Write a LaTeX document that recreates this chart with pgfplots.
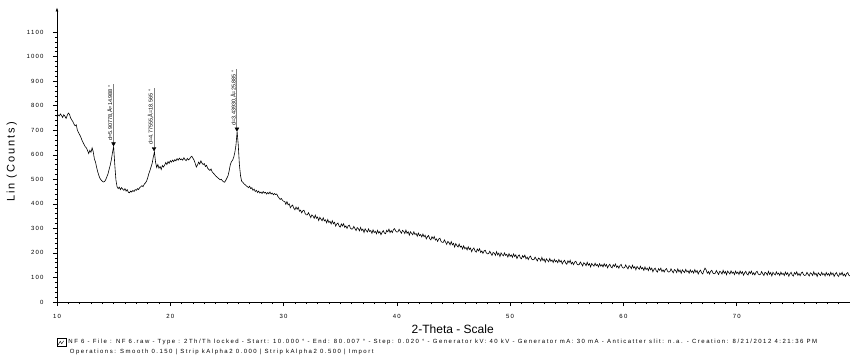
\documentclass[border=0pt]{standalone}
\usepackage{fontspec}
\setmainfont{Liberation Sans}
\newfontfamily\infofont[LetterSpace=25]{Liberation Sans}
\newfontfamily\tickfont[LetterSpace=20]{Liberation Sans}
\newfontfamily\widefont[LetterSpace=18]{Liberation Sans}
\usepackage{pgfplots}
\pgfplotsset{compat=1.18}
\usepackage{pgfplotstable}
\usetikzlibrary{arrows.meta}

\pgfplotstableread{
x y
10.0 755
10.1 762
10.2 758
10.3 766
10.4 760
10.5 752
10.6 763
10.7 757
10.8 748
10.9 760
11.0 770
11.1 765
11.2 750
11.3 742
11.4 735
11.5 725
11.6 718
11.7 722
11.8 700
11.9 690
12.0 682
12.1 672
12.2 660
12.3 650
12.4 641
12.5 632
12.6 628
12.7 617
12.8 605
12.9 618
13.0 610
13.1 628
13.2 612
13.3 583
13.4 570
13.5 548
13.6 530
13.7 515
13.8 503
13.9 497
14.0 492
14.1 489
14.2 491
14.3 498
14.4 510
14.5 522
14.6 540
14.7 558
14.8 580
14.9 610
15.0 632
15.1 560
15.2 498
15.3 470
15.4 462
15.5 468
15.6 458
15.7 466
15.8 460
15.9 455
16.0 462
16.1 452
16.2 458
16.3 447
16.4 445
16.5 452
16.6 448
16.7 455
16.8 450
16.9 458
17.0 455
17.1 462
17.2 458
17.3 466
17.4 470
17.5 474
17.6 470
17.7 480
17.8 485
17.9 492
18.0 505
18.1 522
18.2 535
18.3 550
18.4 565
18.5 590
18.6 612
18.7 570
18.8 548
18.9 560
19.0 545
19.1 552
19.2 540
19.3 556
19.4 550
19.5 558
19.6 568
19.7 560
19.8 572
19.9 565
20.0 576
20.1 570
20.2 578
20.3 572
20.4 580
20.5 575
20.6 584
20.7 578
20.8 586
20.9 580
21.0 583
21.1 578
21.2 588
21.3 580
21.4 576
21.5 585
21.6 579
21.7 583
21.8 590
21.9 594
22.0 586
22.1 578
22.2 565
22.3 550
22.4 558
22.5 570
22.6 562
22.7 575
22.8 566
22.9 560
23.0 564
23.1 552
23.2 557
23.3 545
23.4 540
23.5 536
23.6 542
23.7 530
23.8 525
23.9 520
24.0 514
24.1 510
24.2 506
24.3 502
24.4 498
24.5 500
24.6 494
24.7 490
24.8 488
24.9 496
25.0 505
25.1 515
25.2 535
25.3 560
25.4 572
25.5 578
25.6 590
25.7 610
25.8 640
25.9 695
26.0 640
26.1 560
26.2 515
26.3 492
26.4 488
26.5 482
26.6 478
26.7 474
26.8 470
26.9 466
27.0 472
27.1 462
27.2 466
27.3 455
27.4 460
27.5 450
27.6 455
27.7 446
27.8 452
27.9 444
28.0 448
28.1 442
28.2 450
28.3 444
28.4 447
28.5 440
28.6 446
28.7 441
28.8 448
28.9 440
29.0 444
29.1 437
29.2 442
29.3 438
29.4 440
29.5 430
29.6 424
29.7 418
29.8 422
29.9 415
30.0 410
}\xrdA

\begin{document}
\begin{tikzpicture}
\begin{axis}[
  scale only axis, width=793pt, height=294.5pt,
  xmin=10, xmax=80, ymin=0, ymax=1200,
  axis x line=bottom, axis y line=left,
  x axis line style={-},
  y axis line style={-{Latex[length=4pt,width=3pt]}},
  axis line style={line width=0.6pt},
  xtick={10,20,...,80}, xticklabels={10,20,30,40,50,60,70,},
  ytick={0,100,...,1100},
  minor x tick num=9, minor y tick num=4,
  tick align=outside,
  major tick length=4pt, minor tick length=2pt,
  tick style={black, line width=0.5pt},
  ticklabel style={font=\tickfont\fontsize{6}{7}\selectfont},
  xticklabel style={yshift=-5pt},
  yticklabel style={xshift=-6pt},
  /pgf/number format/assume math mode=true,
  /pgf/number format/1000 sep={},
  clip=false,
]
\coordinate (O) at (axis cs:10,0);
\addplot[black, line width=0.6pt] table[x=x,y=y] {\xrdA};
\addplot[black, line width=0.6pt] coordinates {
(30.0,410) (30.1,410) (30.2,398) (30.3,409) (30.4,396) (30.5,400) (30.6,384) (30.7,391) (30.8,395) (30.9,382) (31.0,376)
(31.1,387) (31.2,378) (31.3,386) (31.4,370) (31.5,374) (31.6,363) (31.7,372) (31.8,374) (31.9,361) (32.0,355)
(32.1,355) (32.2,364) (32.3,354) (32.4,344) (32.5,355) (32.6,350) (32.7,341) (32.8,354) (32.9,341) (33.0,346)
(33.1,332) (33.2,345) (33.3,338) (33.4,331) (33.5,343) (33.6,331) (33.7,335) (33.8,323) (33.9,336) (34.0,324)
(34.1,329) (34.2,318) (34.3,331) (34.4,319) (34.5,325) (34.6,309) (34.7,318) (34.8,322) (34.9,310) (35.0,305)
(35.1,318) (35.2,310) (35.3,319) (35.4,304) (35.5,310) (35.6,300) (35.7,310) (35.8,313) (35.9,301) (36.0,297)
(36.1,298) (36.2,308) (36.3,299) (36.4,291) (36.5,303) (36.6,299) (36.7,290) (36.8,304) (36.9,291) (37.0,297)
(37.1,283) (37.2,298) (37.3,291) (37.4,285) (37.5,298) (37.6,287) (37.7,291) (37.8,280) (37.9,294) (38.0,283)
(38.1,288) (38.2,278) (38.3,292) (38.4,281) (38.5,287) (38.6,274) (38.7,284) (38.8,291) (38.9,281) (39.0,278)
(39.1,292) (39.2,286) (39.3,297) (39.4,283) (39.5,291) (39.6,283) (39.7,295) (39.8,299) (39.9,289) (40.0,285)
(40.1,286) (40.2,296) (40.3,288) (40.4,280) (40.5,292) (40.6,288) (40.7,279) (40.8,293) (40.9,280) (41.0,286)
(41.1,272) (41.2,286) (41.3,280) (41.4,274) (41.5,286) (41.6,275) (41.7,279) (41.8,268) (41.9,281) (42.0,270)
(42.1,275) (42.2,265) (42.3,277) (42.4,266) (42.5,272) (42.6,257) (42.7,266) (42.8,271) (42.9,258) (43.0,253)
(43.1,266) (43.2,258) (43.3,267) (43.4,252) (43.5,257) (43.6,247) (43.7,257) (43.8,260) (43.9,247) (44.0,243)
(44.1,243) (44.2,253) (44.3,244) (44.4,235) (44.5,247) (44.6,242) (44.7,233) (44.8,246) (44.9,233) (45.0,239)
(45.1,224) (45.2,238) (45.3,230) (45.4,224) (45.5,236) (45.6,224) (45.7,228) (45.8,216) (45.9,229) (46.0,217)
(46.1,222) (46.2,212) (46.3,225) (46.4,214) (46.5,220) (46.6,205) (46.7,215) (46.8,220) (46.9,208) (47.0,203)
(47.1,216) (47.2,208) (47.3,217) (47.4,202) (47.5,208) (47.6,198) (47.7,208) (47.8,211) (47.9,200) (48.0,196)
(48.1,197) (48.2,207) (48.3,198) (48.4,190) (48.5,202) (48.6,199) (48.7,190) (48.8,205) (48.9,192) (49.0,199)
(49.1,185) (49.2,200) (49.3,193) (49.4,188) (49.5,200) (49.6,190) (49.7,194) (49.8,183) (49.9,197) (50.0,186)
(50.1,192) (50.2,182) (50.3,196) (50.4,185) (50.5,192) (50.6,177) (50.7,187) (50.8,192) (50.9,180) (51.0,176)
(51.1,189) (51.2,182) (51.3,191) (51.4,176) (51.5,183) (51.6,173) (51.7,183) (51.8,187) (51.9,175) (52.0,172)
(52.1,173) (52.2,183) (52.3,175) (52.4,167) (52.5,179) (52.6,176) (52.7,167) (52.8,182) (52.9,169) (53.0,175)
(53.1,162) (53.2,176) (53.3,170) (53.4,164) (53.5,177) (53.6,166) (53.7,171) (53.8,161) (53.9,174) (54.0,164)
(54.1,169) (54.2,160) (54.3,173) (54.4,163) (54.5,169) (54.6,155) (54.7,164) (54.8,170) (54.9,159) (55.0,154)
(55.1,168) (55.2,160) (55.3,170) (55.4,155) (55.5,162) (55.6,152) (55.7,163) (55.8,166) (55.9,155) (56.0,151)
(56.1,153) (56.2,163) (56.3,155) (56.4,147) (56.5,160) (56.6,156) (56.7,148) (56.8,162) (56.9,150) (57.0,156)
(57.1,143) (57.2,157) (57.3,151) (57.4,146) (57.5,158) (57.6,148) (57.7,153) (57.8,143) (57.9,156) (58.0,146)
(58.1,152) (58.2,143) (58.3,156) (58.4,146) (58.5,153) (58.6,139) (58.7,148) (58.8,154) (58.9,143) (59.0,139)
(59.1,152) (59.2,145) (59.3,155) (59.4,141) (59.5,147) (59.6,138) (59.7,149) (59.8,153) (59.9,141) (60.0,138)
(60.1,140) (60.2,151) (60.3,142) (60.4,135) (60.5,148) (60.6,144) (60.7,136) (60.8,150) (60.9,138) (61.0,144)
(61.1,131) (61.2,145) (61.3,139) (61.4,133) (61.5,146) (61.6,135) (61.7,140) (61.8,129) (61.9,143) (62.0,132)
(62.1,138) (62.2,128) (62.3,142) (62.4,131) (62.5,138) (62.6,123) (62.7,133) (62.8,138) (62.9,127) (63.0,122)
(63.1,136) (63.2,129) (63.3,138) (63.4,124) (63.5,131) (63.6,122) (63.7,132) (63.8,136) (63.9,125) (64.0,122)
(64.1,124) (64.2,135) (64.3,126) (64.4,119) (64.5,132) (64.6,129) (64.7,120) (64.8,135) (64.9,123) (65.0,130)
(65.1,117) (65.2,131) (65.3,125) (65.4,120) (65.5,133) (65.6,123) (65.7,127) (65.8,117) (65.9,131) (66.0,121)
(66.1,127) (66.2,118) (66.3,132) (66.4,121) (66.5,128) (66.6,114) (66.7,124) (66.8,130) (66.9,119) (67.0,114)
(67.1,128) (67.2,138) (67.3,131) (67.4,117) (67.5,124) (67.6,114) (67.7,125) (67.8,129) (67.9,118) (68.0,115)
(68.1,117) (68.2,128) (68.3,120) (68.4,112) (68.5,125) (68.6,122) (68.7,114) (68.8,129) (68.9,117) (69.0,124)
(69.1,111) (69.2,126) (69.3,120) (69.4,114) (69.5,127) (69.6,117) (69.7,122) (69.8,112) (69.9,126) (70.0,116)
(70.1,122) (70.2,112) (70.3,126) (70.4,116) (70.5,123) (70.6,109) (70.7,119) (70.8,125) (70.9,114) (71.0,110)
(71.1,124) (71.2,116) (71.3,126) (71.4,112) (71.5,119) (71.6,110) (71.7,121) (71.8,125) (71.9,114) (72.0,111)
(72.1,113) (72.2,124) (72.3,115) (72.4,108) (72.5,121) (72.6,118) (72.7,110) (72.8,125) (72.9,113) (73.0,120)
(73.1,106) (73.2,121) (73.3,115) (73.4,110) (73.5,123) (73.6,113) (73.7,118) (73.8,108) (73.9,122) (74.0,112)
(74.1,117) (74.2,108) (74.3,122) (74.4,112) (74.5,119) (74.6,105) (74.7,115) (74.8,121) (74.9,110) (75.0,106)
(75.1,120) (75.2,113) (75.3,123) (75.4,109) (75.5,116) (75.6,107) (75.7,118) (75.8,122) (75.9,111) (76.0,108)
(76.1,110) (76.2,121) (76.3,113) (76.4,106) (76.5,119) (76.6,116) (76.7,108) (76.8,123) (76.9,111) (77.0,117)
(77.1,104) (77.2,119) (77.3,113) (77.4,108) (77.5,121) (77.6,111) (77.7,116) (77.8,106) (77.9,120) (78.0,110)
(78.1,116) (78.2,107) (78.3,121) (78.4,111) (78.5,118) (78.6,104) (78.7,114) (78.8,120) (78.9,109) (79.0,104)
(79.1,118) (79.2,111) (79.3,121) (79.4,107) (79.5,114) (79.6,105) (79.7,116) (79.8,120) (79.9,109) (80.0,106)
};

% peak markers
\addplot[gray, line width=1pt] coordinates {(14.988,888) (14.988,640)};
\addplot[gray, line width=1pt] coordinates {(18.565,870) (18.565,620)};
\addplot[gray, line width=1pt] coordinates {(25.885,949) (25.885,700)};
\addplot[only marks, mark=triangle*, mark size=2.2pt, mark options={rotate=180, fill=black, draw=black}]
  coordinates {(14.988,645) (18.565,625) (25.885,705)};

\node[rotate=90, anchor=south east, inner sep=0.5pt, font=\fontsize{5.5}{6}\selectfont, xshift=-1.5pt]
  at (axis cs:14.988,892) {d=5.90778,Å=14.988 °};
\node[rotate=90, anchor=south east, inner sep=0.5pt, font=\fontsize{5.5}{6}\selectfont, xshift=-1.5pt]
  at (axis cs:18.565,874) {d=4.77555,Å=18.565 °};
\node[rotate=90, anchor=south east, inner sep=0.5pt, font=\fontsize{5.5}{6}\selectfont, xshift=-1.5pt]
  at (axis cs:25.885,953) {d=3.43930,Å=25.885 °};

% labels
\node[rotate=90, font=\widefont\fontsize{11}{12}\selectfont] at (axis description cs:-0.057,0.475) {Lin (Counts)};
\node[font=\fontsize{12}{13}\selectfont] at (axis description cs:0.499,-0.094) {2-Theta - Scale};
\end{axis}

% info box and lines
\path (O) ++(5pt,-40pt) node[draw, line width=0.5pt, minimum width=9pt, minimum height=8pt, inner sep=0pt] (icon) {};
\draw[line width=0.4pt] (icon.south west) ++(1pt,1.5pt) -- ++(2pt,3.5pt) -- ++(1.5pt,-2.5pt) -- ++(2pt,3pt);
\node[anchor=west, inner sep=0pt, font=\infofont\fontsize{6}{7}\selectfont] at ([xshift=1.5pt]icon.east)
  {NF 6 - File : NF 6.raw - Type : 2Th/Th locked - Start: 10.000 ° - End: 80.007 ° - Step: 0.020 ° - Generator kV: 40 kV - Generator mA: 30 mA - Anticatter slit: n.a. - Creation: 8/21/2012 4:21:36 PM};
\node[anchor=west, inner sep=0pt, font=\infofont\fontsize{6}{7}\selectfont] at ([xshift=3pt,yshift=-10pt]icon.east)
  {Operations: Smooth 0.150 | Strip kAlpha2 0.000 | Strip kAlpha2 0.500 | Import};

\pgfresetboundingbox
\path (O) ++(-57pt,-54pt) rectangle ++(850pt,356pt);
\end{tikzpicture}
\end{document}
